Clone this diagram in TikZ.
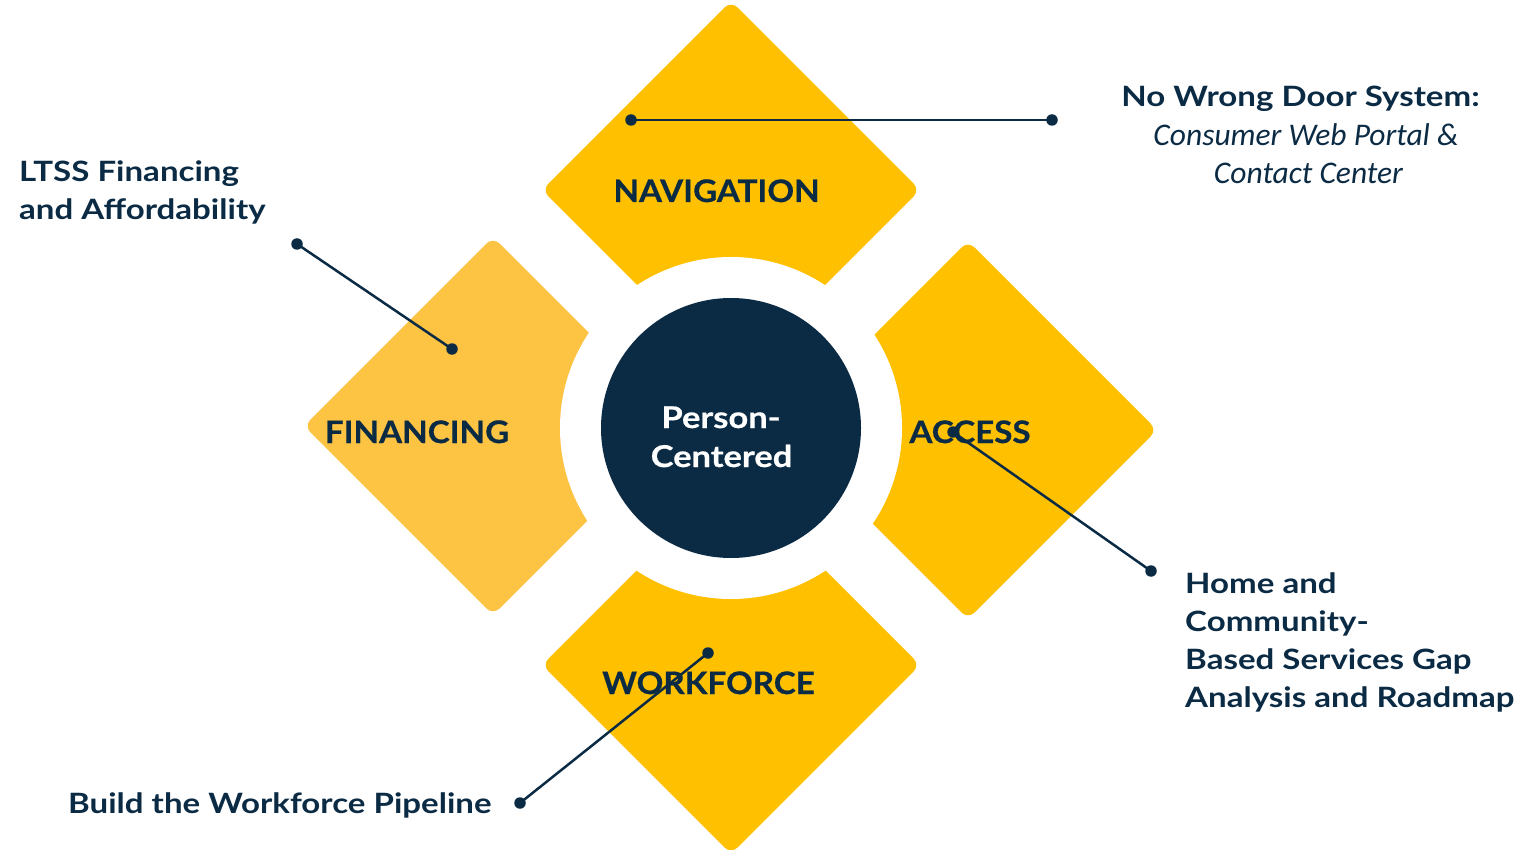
\documentclass[tikz,border=0pt]{standalone}
\usepackage{fontspec}
\setmainfont{Lato}
\newfontfamily\notefont{Lato}[FakeStretch=1.18]
\newfontfamily\heavyfont{Lato}[FakeStretch=1.07, FakeBold=0.6]
\newfontfamily\corefont{Lato}[FakeStretch=1.15, FakeBold=0.6]
\newfontfamily\itfont{Carlito}
\definecolor{gold}{HTML}{FFC000}
\definecolor{goldlight}{HTML}{FDC343}
\definecolor{navy}{HTML}{0B2B45}
\begin{document}
\begin{tikzpicture}[x=1pt,y=-1pt,
  petal/.style={fill=gold, rounded corners=9pt},
  dlabel/.style={font=\heavyfont\bfseries\fontsize{31}{31}\selectfont, text=navy, anchor=base, inner sep=0pt},
  clabel/.style={font=\corefont\bfseries\fontsize{30}{30}\selectfont, text=white, anchor=base, inner sep=0pt},
  note/.style={font=\notefont\bfseries\fontsize{28}{28}\selectfont, text=navy, anchor=base west, inner sep=0pt},
  itnote/.style={font=\itfont\itshape\fontsize{31.5}{31.5}\selectfont, text=navy, anchor=base, inner sep=0pt},
  dot/.style={circle, fill=navy, minimum size=11.5pt, inner sep=0pt},
  leader/.style={draw=navy, line width=2.5pt}]
\useasboundingbox (0,0) rectangle (1529,850);
% petals
\fill[petal] (731,1) -- (920,190) -- (731,379) -- (542,190) -- cycle;
\fill[petal, fill=goldlight] (493,237) -- (682,426) -- (493,615) -- (304,426) -- cycle;
\fill[petal] (968,241) -- (1157,430) -- (968,619) -- (779,430) -- cycle;
\fill[petal] (731,476) -- (920,665) -- (731,854) -- (542,665) -- cycle;
% white gap and core
\fill[white] (731,428) circle (171pt);
\node[circle, fill=navy, minimum size=260pt, inner sep=0pt] (core) at (731,428) {};
\node[clabel] (pc1) at (721,428) {Person-};
\node[clabel] (pc2) at (721.5,467) {Centered};
% petal labels
\node[dlabel] (nav) at (716.5,202) {NAVIGATION};
\node[dlabel] (fin) at (417,443) {FINANCING};
\node[dlabel] (acc) at (970,443) {ACCESS};
\node[dlabel] (wor) at (708.5,694) {WORKFORCE};
% notes
\node[note, anchor=base] (nwd) at (1300.5,107) {No Wrong Door System:};
\node[itnote] (cwp) at (1306,146) {Consumer Web Portal \&};
\node[itnote] (ccn) at (1308.5,184) {Contact Center};
\node[note] (lt1) at (19,182) {LTSS Financing};
\node[note] (lt2) at (19,220) {and Affordability};
\node[note] (hc1) at (1185,593) {Home and};
\node[note] (hc2) at (1185,631) {Community-};
\node[note] (hc3) at (1185,669) {Based Services Gap};
\node[note] (hc4) at (1185,707) {Analysis and Roadmap};
\node[note] (bwp) at (68,813) {Build the Workforce Pipeline};
% leaders
\node[dot] (d1a) at (631,120) {};
\node[dot] (d1b) at (1052,120) {};
\node[dot] (d2a) at (297,244) {};
\node[dot] (d2b) at (452,349) {};
\node[dot] (d3a) at (953,432) {};
\node[dot] (d3b) at (1151,571) {};
\node[dot] (d4a) at (708,653) {};
\node[dot] (d4b) at (520,803) {};
\draw[leader] (d1a.center) -- (d1b.center);
\draw[leader] (d2a.center) -- (d2b.center);
\draw[leader] (d3a.center) -- (d3b.center);
\draw[leader] (d4a.center) -- (d4b.center);
\end{tikzpicture}
\end{document}
